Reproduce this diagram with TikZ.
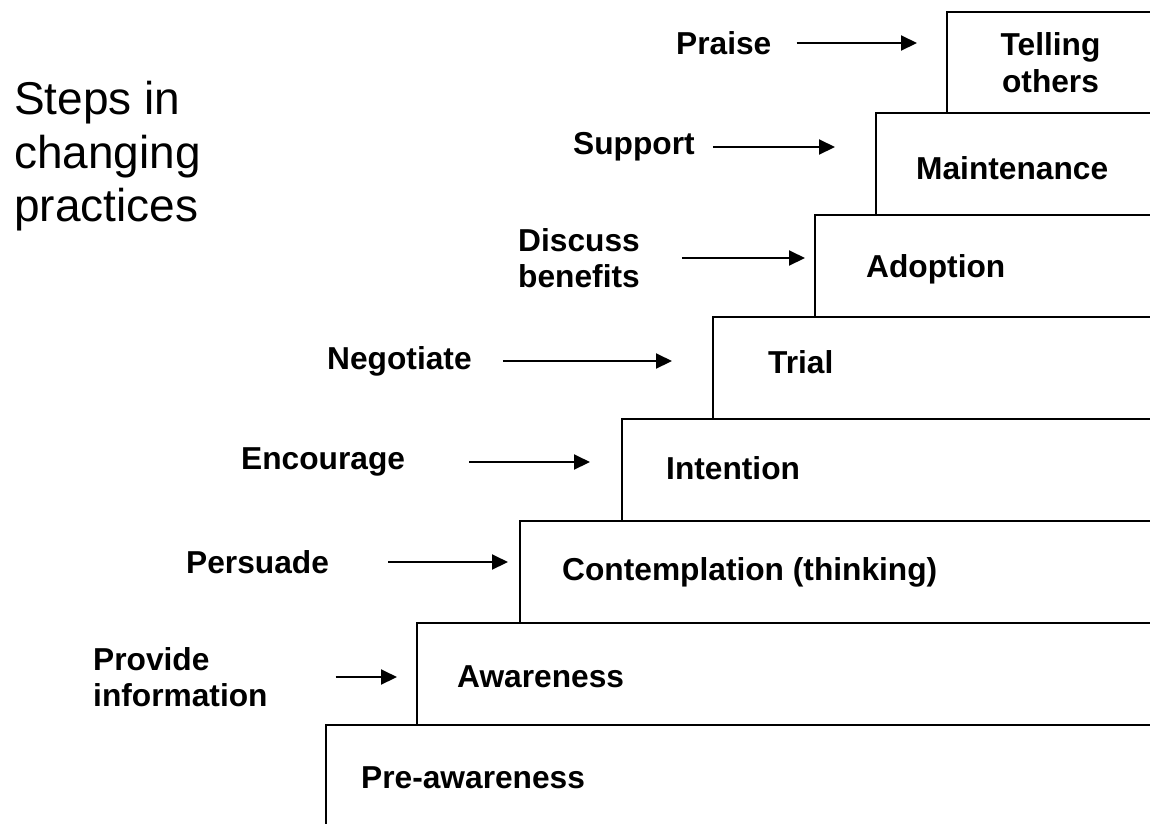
\documentclass[tikz,border=0pt]{standalone}
\usepackage{fontspec}
\setmainfont{Liberation Sans}
\usetikzlibrary{positioning,arrows.meta}

\tikzset{
	stepbox/.style  = {draw, rectangle, line width=2.2pt, anchor=north west, inner sep=0pt, outer sep=0pt, minimum height=102pt},
	steptext/.style = {font=\bfseries\fontsize{31.7}{36.5}\selectfont, inner sep=0pt, align=left},
	cue/.style      = {font=\bfseries\fontsize{31.7}{36.5}\selectfont, inner sep=0pt, align=left, anchor=west},
	cuearrow/.style = {line width=2pt, -{Triangle[length=16pt,width=15pt]}},
}

\begin{document}
\begin{tikzpicture}[x=1pt,y=-1pt]
	\useasboundingbox (0,0) rectangle (1150,823);
	% title
	\node (title) at (14, 81) [anchor=north west, inner sep=0pt, align=left, font=\fontsize{46}{53.5}\selectfont] {Steps in\\changing\\practices};
	% the steps
	\node (tell)  at (947,  12)	[stepbox, minimum width=207pt, minimum height=101pt]	{};
	\node (maint) at (876, 113)	[stepbox, minimum width=278pt]	{};
	\node (adopt) at (815, 215)	[stepbox, minimum width=339pt]	{};
	\node (trial) at (713, 317)	[stepbox, minimum width=441pt]	{};
	\node (inten) at (622, 419)	[stepbox, minimum width=532pt]	{};
	\node (conte) at (520, 521)	[stepbox, minimum width=634pt]	{};
	\node (aware) at (417, 623)	[stepbox, minimum width=737pt]	{};
	\node (pre)   at (326, 725)	[stepbox, minimum width=828pt]	{};
	% step names
	\node (tellT)  at (tell.center)	[steptext, align=center]	{Telling\\others};
	\node (maintT) [steptext, right=40pt of maint.west, yshift=-4pt]	{Maintenance};
	\node (adoptT) [steptext, right=51pt of adopt.west, yshift=-3pt]	{Adoption};
	\node (trialT) [steptext, right=55pt of trial.west, yshift=6pt]	{Trial};
	\node (intenT) [steptext, right=44pt of inten.west, yshift=2pt]	{Intention};
	\node (conteT) [steptext, right=42pt of conte.west]	{Contemplation (thinking)};
	\node (awareT) [steptext, right=40pt of aware.west, yshift=-3pt]	{Awareness};
	\node (preT)   [steptext, right=35pt of pre.west, yshift=-2pt]	{Pre-awareness};
	% what helps each step
	\node (praise)  at (676,  43)	[cue]	{Praise};
	\node (support) at (573, 147)	[cue]	{Support};
	\node (discuss) at (518, 258)	[cue]	{Discuss\\benefits};
	\node (negot)   at (327, 361)	[cue]	{Negotiate};
	\node (encour)  at (241, 462)	[cue]	{Encourage};
	\node (persu)   at (186, 562)	[cue]	{Persuade};
	\node (provide) at ( 93, 677)	[cue]	{Provide\\information};
	\draw[cuearrow, shorten <=25pt, shorten >=30pt] (praise.east) -- (praise.east -| tell.west);
	\draw[cuearrow, shorten <=18pt, shorten >=41pt] (support.east) -- (support.east -| maint.west);
	\draw[cuearrow, shorten <=42pt, shorten >=10pt] (discuss.east) -- (discuss.east -| adopt.west);
	\draw[cuearrow, shorten <=31pt, shorten >=41pt] (negot.east) -- (negot.east -| trial.west);
	\draw[cuearrow, shorten <=64pt, shorten >=32pt] (encour.east) -- (encour.east -| inten.west);
	\draw[cuearrow, shorten <=59pt, shorten >=12pt] (persu.east) -- (persu.east -| conte.west);
	\draw[cuearrow, shorten <=68pt, shorten >=20pt] (provide.east) -- (provide.east -| aware.west);
\end{tikzpicture}
\end{document}
